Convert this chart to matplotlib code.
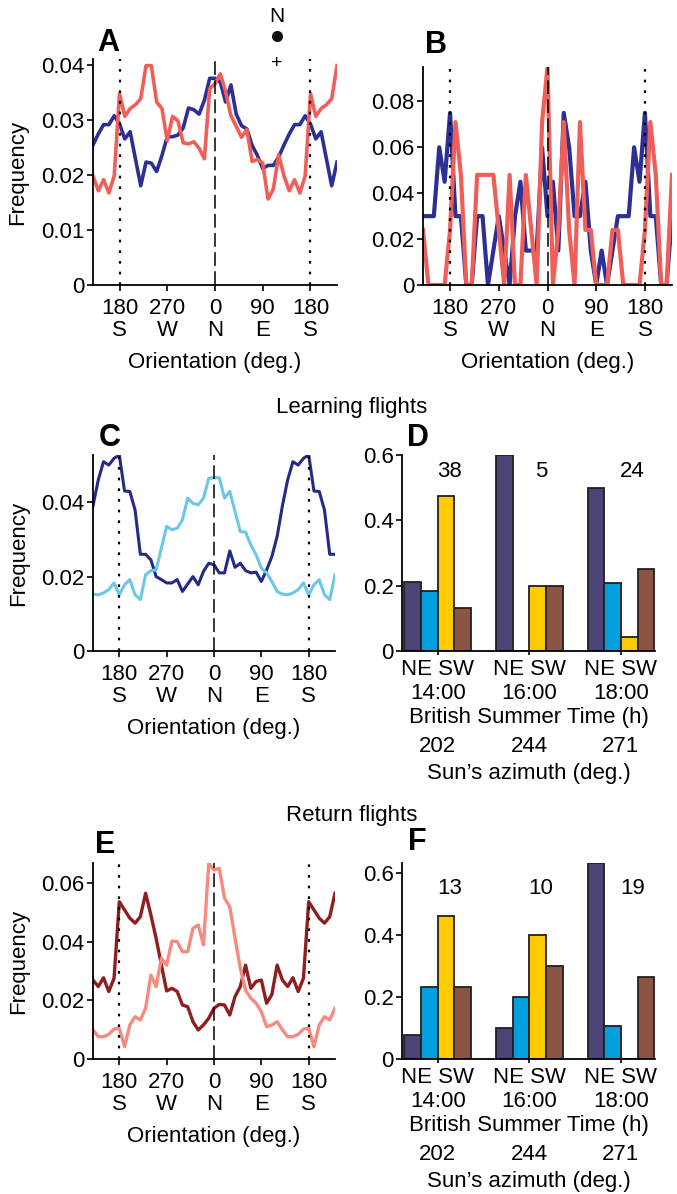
import numpy as np
import matplotlib
matplotlib.use("Agg")
import matplotlib.pyplot as plt
from matplotlib.transforms import blended_transform_factory

plt.rcParams['font.family'] = ['Liberation Sans', 'DejaVu Sans']
plt.rcParams['font.size'] = 16
plt.rcParams['axes.linewidth'] = 1.3

W, H = 677, 1194

# orientation bins (deg, 0 = N), one turn from S round to S
bins = np.arange(-180, 180, 10)
# plotted range repeats 50 deg past S on either side
shown = np.arange(-230, 240, 10)

ori_ticks = [-180, -90, 0, 90, 180]
ori_labels = ["180\nS", "270\nW", "0\nN", "90\nE", "180\nS"]

# A: orientation frequency, two bees
a_blue = [0.0292, 0.0265, 0.0278, 0.0229, 0.0180, 0.0223, 0.0221, 0.0206, 0.0235,
          0.0269, 0.0269, 0.0272, 0.0285, 0.0321, 0.0318, 0.0310, 0.0335, 0.0375,
          0.0375, 0.0368, 0.0332, 0.0363, 0.0310, 0.0289, 0.0283, 0.0253, 0.0235,
          0.0211, 0.0217, 0.0217, 0.0232, 0.0254, 0.0274, 0.0291, 0.0291, 0.0307]
a_red = [0.0347, 0.0306, 0.0320, 0.0327, 0.0338, 0.0398, 0.0398, 0.0332, 0.0320,
         0.0262, 0.0306, 0.0298, 0.0258, 0.0256, 0.0260, 0.0248, 0.0229, 0.0356,
         0.0365, 0.0383, 0.0351, 0.0307, 0.0288, 0.0268, 0.0282, 0.0224, 0.0228,
         0.0221, 0.0156, 0.0174, 0.0236, 0.0198, 0.0171, 0.0191, 0.0167, 0.0198]

# B: single flights
b_blue = [0.075, 0.030, 0.030, 0.0, 0.0, 0.030, 0.030, 0.0, 0.015,
          0.030, 0.015, 0.0, 0.030, 0.045, 0.015, 0.015, 0.015, 0.060,
          0.030, 0.045, 0.015, 0.075, 0.060, 0.030, 0.030, 0.045, 0.015,
          0.0, 0.015, 0.0, 0.015, 0.030, 0.030, 0.030, 0.060, 0.045]
b_red = [0.024, 0.071, 0.048, 0.0, 0.0, 0.048, 0.048, 0.048, 0.048,
         0.024, 0.0, 0.048, 0.0, 0.0, 0.048, 0.024, 0.0, 0.071,
         0.095, 0.0, 0.024, 0.071, 0.024, 0.0, 0.071, 0.024, 0.024,
         0.0, 0.0, 0.0, 0.024, 0.024, 0.0, 0.0, 0.0, 0.0]

# C: learning flights, two groups
c_dark = [0.0527, 0.0430, 0.0429, 0.0379, 0.0260, 0.0260, 0.0245, 0.0200, 0.0192,
          0.0183, 0.0183, 0.0192, 0.0160, 0.0180, 0.0200, 0.0178, 0.0214, 0.0236,
          0.0232, 0.0210, 0.0210, 0.0269, 0.0225, 0.0236, 0.0216, 0.0210, 0.0212,
          0.0187, 0.0218, 0.0254, 0.0308, 0.0390, 0.0460, 0.0509, 0.0500, 0.0518]
c_light = [0.0151, 0.0178, 0.0192, 0.0151, 0.0138, 0.0205, 0.0216, 0.0218, 0.0277,
           0.0335, 0.0326, 0.0330, 0.0353, 0.0411, 0.0397, 0.0393, 0.0411, 0.0464,
           0.0466, 0.0466, 0.0411, 0.0429, 0.0375, 0.0321, 0.0320, 0.0285, 0.0259,
           0.0223, 0.0210, 0.0187, 0.0160, 0.0153, 0.0151, 0.0156, 0.0165, 0.0183]

# E: return flights, two groups
e_dark = [0.0536, 0.0508, 0.0480, 0.0463, 0.0485, 0.0565, 0.0491, 0.0411, 0.0320,
          0.0232, 0.0241, 0.0230, 0.0184, 0.0178, 0.0127, 0.0099, 0.0116, 0.0139,
          0.0173, 0.0186, 0.0184, 0.0150, 0.0213, 0.0247, 0.0320, 0.0241, 0.0264,
          0.0269, 0.0190, 0.0220, 0.0320, 0.0269, 0.0247, 0.0277, 0.0230, 0.0275]
e_light = [0.0105, 0.0042, 0.0116, 0.0144, 0.0133, 0.0173, 0.0286, 0.0247, 0.0343,
           0.0320, 0.0402, 0.0400, 0.0366, 0.0366, 0.0445, 0.0457, 0.0389, 0.0667,
           0.0644, 0.0650, 0.0548, 0.0519, 0.0411, 0.0309, 0.0235, 0.0207, 0.0190,
           0.0161, 0.0110, 0.0116, 0.0127, 0.0099, 0.0076, 0.0076, 0.0084, 0.0102]

# D/F: fraction of bees per heading class at each release time
times = ["14:00", "16:00", "18:00"]
azimuths = [202, 244, 271]
bar_colors = ["#4b4577", "#00a0df", "#fecb00", "#8c5543"]
learn_n = [38, 5, 24]
learn_1400 = [0.211, 0.184, 0.474, 0.132]
learn_1600 = [0.600, 0.0, 0.200, 0.200]
learn_1800 = [0.500, 0.208, 0.042, 0.250]
return_n = [13, 10, 19]
return_1400 = [0.077, 0.231, 0.462, 0.231]
return_1600 = [0.100, 0.200, 0.400, 0.300]
return_1800 = [0.632, 0.105, 0.0, 0.263]


def wrap(vals):
    vals = np.asarray(vals)
    return vals[((shown + 180) % 360) // 10]


def px_axes(left, top, right, bottom):
    return fig.add_axes([left / W, 1 - bottom / H, (right - left) / W, (bottom - top) / H])


def style(ax):
    for s in ("top", "right"):
        ax.spines[s].set_visible(False)
    ax.tick_params(direction="out", length=4, width=1.2, pad=2, labelsize=16)


def orient_panel(ax, series, colors, lw, ymax, yticks, ylabels, freq_label=True):
    for vals, c in zip(series, colors):
        ax.plot(shown, wrap(vals), color=c, lw=lw, zorder=2)
    for s in (-180, 180):
        ax.axvline(s, color="k", ls=(0, (1.2, 3.6)), lw=1.6, zorder=3)
    ax.axvline(0, color="k", ls=(0, (9, 3.5)), lw=1.1, zorder=3)
    ax.set_xlim(-230, 230)
    ax.set_ylim(0, ymax)
    ax.set_xticks(ori_ticks)
    ax.set_xticklabels(ori_labels, linespacing=1.1)
    ax.set_yticks(yticks)
    ax.set_yticklabels(ylabels)
    style(ax)
    ax.tick_params(axis="x", pad=5)
    ax.set_xlabel("Orientation (deg.)", labelpad=8)
    if freq_label:
        ax.set_ylabel("Frequency")
        ax.yaxis.set_label_coords(-0.265, 0.5)


def bar_panel(ax, groups, ns, ymax):
    centres = []
    for g, (vals, n) in enumerate(zip(groups, ns)):
        x0 = g * 5.5
        ax.bar(x0 + np.arange(4) + 0.5, vals, width=1.0, color=bar_colors,
               edgecolor="#231f20", lw=1.3, zorder=2)
        ax.text(x0 + 2.7, 0.55, str(n), ha="center", va="center")
        centres.append(x0 + 2)
    ax.set_xlim(-0.15, 15.05)
    ax.set_ylim(0, ymax)
    ax.set_yticks([0, 0.2, 0.4, 0.6])
    ax.set_yticklabels(["0", "0.2", "0.4", "0.6"])
    ax.set_xticks(centres)
    ax.set_xticklabels(["NE SW\n" + t for t in times], linespacing=1.15)
    style(ax)
    ax.tick_params(axis="x", length=3, pad=3)
    ax.set_xlabel("British Summer Time (h)", labelpad=2)
    tr = blended_transform_factory(ax.transData, ax.transAxes)
    for c, az in zip(centres, azimuths):
        ax.text(c, -0.485, str(az), transform=tr, ha="center", va="center")
    ax.text(0.5, -0.627, "Sun\u2019s azimuth (deg.)", transform=ax.transAxes,
            ha="center", va="center")


fig = plt.figure(figsize=(W / 100, H / 100), dpi=100)

ax_a = px_axes(93, 59, 337, 285)
orient_panel(ax_a, [a_blue, a_red], ["#2d3092", "#ef5f59"], 2.6, 0.041,
             [0, 0.01, 0.02, 0.03, 0.04], ["0", "0.01", "0.02", "0.03", "0.04"])
# north marker above panel A
ax_a.text(0.754, 1.186, "N", transform=ax_a.transAxes, ha="center", va="center", fontsize=15)
ax_a.plot([0.754], [1.102], "o", color="#111111", ms=7, transform=ax_a.transAxes, clip_on=False)
ax_a.text(0.754, 0.982, "+", transform=ax_a.transAxes, ha="center", va="center", fontsize=14)

ax_b = px_axes(423, 67, 672, 285)
orient_panel(ax_b, [b_blue, b_red], ["#2d3092", "#ef5f59"], 3.0, 0.095,
             [0, 0.02, 0.04, 0.06, 0.08], ["0", "0.02", "0.04", "0.06", "0.08"],
             freq_label=False)

ax_c = px_axes(93, 455, 335, 651)
orient_panel(ax_c, [c_dark, c_light], ["#252a88", "#6cc6e8"], 2.2, 0.0527,
             [0, 0.02, 0.04], ["0", "0.02", "0.04"])

ax_d = px_axes(402, 455, 655, 651)
bar_panel(ax_d, [learn_1400, learn_1600, learn_1800], learn_n, 0.6)

ax_e = px_axes(93, 863, 335, 1059)
orient_panel(ax_e, [e_dark, e_light], ["#8e1e1f", "#f58a80"], 2.4, 0.0668,
             [0, 0.02, 0.04, 0.06], ["0", "0.02", "0.04", "0.06"])

ax_f = px_axes(402, 863, 655, 1059)
bar_panel(ax_f, [return_1400, return_1600, return_1800], return_n, 0.632)

fig.text(352 / W, 1 - 407 / H, "Learning flights", ha="center", va="center", fontsize=16)
fig.text(352 / W, 1 - 815 / H, "Return flights", ha="center", va="center", fontsize=16)

for letter, x, y in [("A", 108, 43), ("B", 436, 45), ("C", 110, 438),
                     ("D", 418, 438), ("E", 105, 845), ("F", 417, 842)]:
    fig.text(x / W, 1 - y / H, letter, ha="center", va="center",
             fontsize=22, fontweight="bold")

fig.savefig("out.png", dpi=100)
